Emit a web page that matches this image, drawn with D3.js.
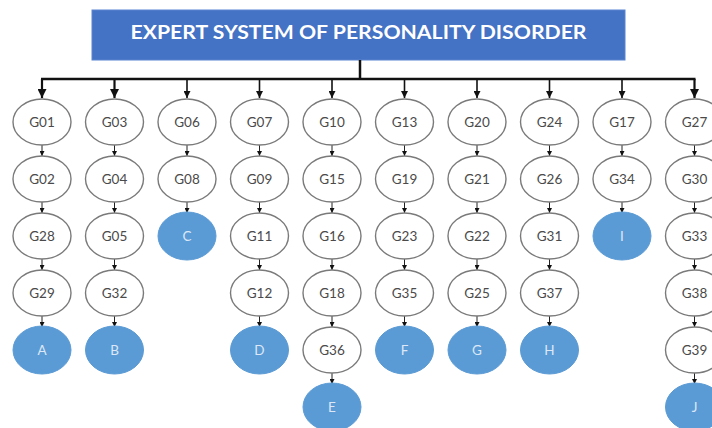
<!DOCTYPE html>
<html><head><meta charset="utf-8">
<script src="https://cdn.jsdelivr.net/npm/d3@7"></script>
<style>html,body{margin:0;padding:0;background:#fff;}</style>
</head><body><svg id="c" width="712" height="428"></svg>
<script>
const title = "EXPERT SYSTEM OF PERSONALITY DISORDER";
const disorders = ["A","B","C","D","E","F","G","H","I","J"];
const chainA = ["G01","G02","G28","G29"];
const chainB = ["G03","G04","G05","G32"];
const chainC = ["G06","G08"];
const chainD = ["G07","G09","G11","G12"];
const chainE = ["G10","G15","G16","G18","G36"];
const chainF = ["G13","G19","G23","G35"];
const chainG = ["G20","G21","G22","G25"];
const chainH = ["G24","G26","G31","G37"];
const chainI = ["G17","G34"];
const chainJ = ["G27","G30","G33","G38","G39"];
const chains = [chainA,chainB,chainC,chainD,chainE,chainF,chainG,chainH,chainI,chainJ];

const svg = d3.select("#c");
const x = d3.scalePoint().domain(disorders).range([42, 694.5]);
const y = d3.scaleLinear().domain([0,1]).range([122, 179]);
const rx = 29, ry = 23;
const barY = 79;

const defs = svg.append("defs");
function marker(id, size){
  defs.append("marker").attr("id", id).attr("viewBox","0 0 10 10").attr("refX",10).attr("refY",5)
    .attr("markerWidth",size).attr("markerHeight",size).attr("markerUnits","userSpaceOnUse").attr("orient","auto")
    .append("path").attr("d","M0,0L10,5L0,10Z").attr("fill","#111");
}
marker("big", 9); marker("mid", 7); marker("small", 5);

// title box
svg.append("rect").attr("x",92).attr("y",10).attr("width",533).attr("height",50)
  .attr("fill","#4472c4").attr("stroke","#5a84cf").attr("stroke-width",1);
svg.append("text").attr("x",358.5).attr("y",39).attr("text-anchor","middle")
  .attr("font-family","Lato, 'Open Sans', sans-serif").attr("font-weight","bold").attr("font-size",18.5)
  .attr("fill","#fff").attr("textLength",456).attr("lengthAdjust","spacingAndGlyphs").text(title);

// connector from title
svg.append("line").attr("x1",360).attr("x2",360).attr("y1",60).attr("y2",barY)
  .attr("stroke","#111").attr("stroke-width",2.5);
svg.append("line").attr("x1",x(disorders[0])-1).attr("x2",x(disorders[disorders.length-1])+1).attr("y1",barY).attr("y2",barY)
  .attr("stroke","#111").attr("stroke-width",2.5);

const cols = svg.selectAll("g.col").data(disorders.map((d,i)=>({label:d, chain:chains[i], i})))
  .join("g").attr("class","col").attr("transform",d=>`translate(${x(d.label)},0)`);

cols.append("line").attr("x1",0).attr("x2",0).attr("y1",barY).attr("y2",y(0)-ry-1)
  .attr("stroke","#111").attr("stroke-width",d=>(d.i<2||d.i===9)?2.2:1.6)
  .attr("marker-end",d=>(d.i<2||d.i===9)?"url(#big)":"url(#mid)");

cols.each(function(d){
  const g = d3.select(this);
  const nodes = d.chain.map((n,k)=>({name:n,k,term:false})).concat([{name:d.label,k:d.chain.length,term:true}]);
  nodes.slice(1).forEach(n=>{
    g.append("line").attr("x1",0).attr("x2",0).attr("y1",y(n.k-1)+ry).attr("y2",y(n.k)-ry)
      .attr("stroke","#222").attr("stroke-width",1).attr("marker-end","url(#small)");
  });
  nodes.forEach(n=>{
    g.append("ellipse").attr("cx",0).attr("cy",y(n.k)).attr("rx",rx).attr("ry",n.term?24:ry)
      .attr("fill",n.term?"#5b9bd5":"#fff").attr("stroke",n.term?"#5b9bd5":"#7a7a7a").attr("stroke-width",n.term?1:1.4);
    g.append("text").attr("x",0).attr("y",y(n.k)+4.8).attr("text-anchor","middle")
      .attr("font-family","Lato, 'Open Sans', sans-serif").attr("font-size",13.5)
      .attr("fill",n.term?"#dce8f6":"#4a4a4a").text(n.name);
  });
});
</script></body></html>
